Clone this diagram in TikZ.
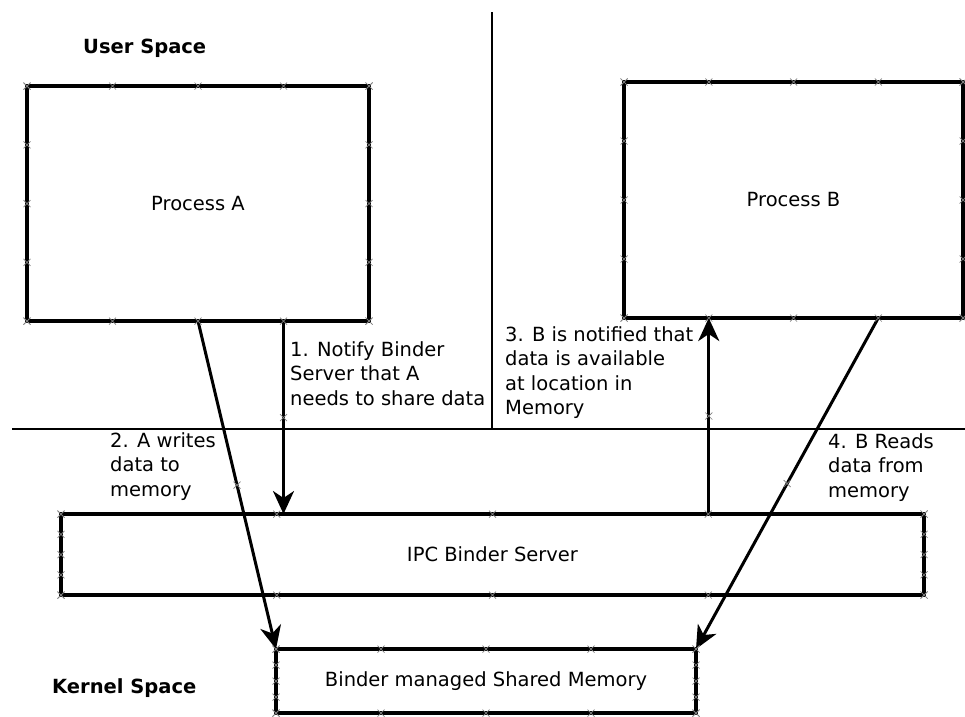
\documentclass[tikz,border=0pt]{standalone}
\usepackage{fontspec}
\setmainfont{DejaVu Sans}
\usetikzlibrary{arrows.meta,calc,positioning}

% small grey connection point
\newcommand{\xmark}[1]{\draw[crossmark] #1 +(-3.5,-3.5) -- +(3.5,3.5) +(-3.5,3.5) -- +(3.5,-3.5);}

\begin{document}
\begin{tikzpicture}[x=1pt,y=-1pt,
  font=\fontsize{19.5}{24.5}\selectfont,
  box/.style={draw,line width=3.2pt,inner sep=0pt,outer sep=0pt},
  flow/.style={line width=3pt,-{Stealth[length=23pt,width=21pt,inset=7pt]}},
  divider/.style={line width=1.2pt},
  note/.style={align=left,anchor=north west,inner sep=0pt},
  space/.style={anchor=base west,inner sep=0pt,font=\fontsize{19.5}{24.5}\selectfont\bfseries},
  crossmark/.style={draw=gray,line width=0.7pt}]
\useasboundingbox (0,0) rectangle (965,716);

% boxes
\node[box,minimum width=342pt,minimum height=235pt] (procA) at (198,203.5) {Process A};
\node[box,minimum width=339pt,minimum height=236pt] (procB) at (793.5,200) {Process B};
\node[box,minimum width=863pt,minimum height=81pt] (ipc) at (492.5,554.5) {IPC Binder Server};
\node[box,minimum width=420pt,minimum height=64pt] (mem) at (486,681) {Binder managed Shared Memory};

% user / kernel split
\coordinate (vtop) at (492,12);
\coordinate (hleft) at (12,429);
\coordinate (hright) at (965,429);
\draw[divider] (vtop) -- (vtop |- hleft);
\draw[divider] (hleft) -- (hright);
\node[space] (user) at (83,53) {User Space};
\node[space] (kernel) at (52,693) {Kernel Space};

% connectors
\coordinate (a1) at ($(procA.south west)!.75!(procA.south east)$);
\coordinate (b1) at ($(procB.south west)!.25!(procB.south east)$);
\coordinate (b2) at ($(procB.south west)!.75!(procB.south east)$);
\coordinate (i1) at (a1 |- ipc.north);
\coordinate (i3) at (b1 |- ipc.north);
\draw[flow] (a1) -- (i1);
\draw[flow] (procA.south) -- (mem.north west);
\draw[flow] (i3) -- (b1);
\draw[flow] (b2) -- (mem.north east);

\node[note] (n1) at (290,341) {1. Notify Binder\\Server that A\\needs to share data};
\node[note] (n2) at (110,432) {2. A writes\\data to\\memory};
\node[note] (n3) at (505,326) {3. B is notified that\\data is available\\at location in\\Memory};
\node[note] (n4) at (828,433) {4. B Reads\\data from\\memory};

% connection points
\foreach \b in {procA,procB,ipc,mem}
  \foreach \t in {0,.25,.5,.75,1} {
    \xmark{($(\b.north west)!\t!(\b.north east)$)}
    \xmark{($(\b.south west)!\t!(\b.south east)$)}
    \xmark{($(\b.north west)!\t!(\b.south west)$)}
    \xmark{($(\b.north east)!\t!(\b.south east)$)}
  }
\foreach \p/\q in {a1/i1,procA.south/mem.north west,i3/b1,b2/mem.north east} {
  \xmark{($(\p)!.5!(\q)$)}
}
\end{tikzpicture}
\end{document}
